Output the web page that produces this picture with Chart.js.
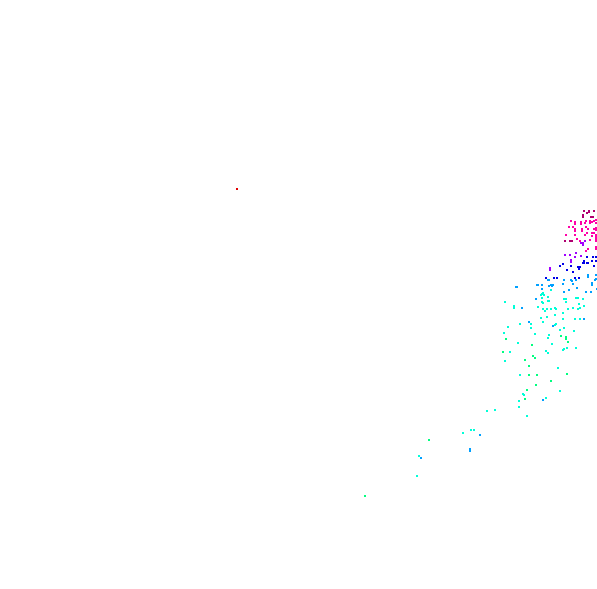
<!DOCTYPE html>
<html>
<head>
<meta charset="utf-8">
<title>Scatter</title>
<script src="https://cdn.jsdelivr.net/npm/chart.js@4"></script>
<style>
html, body { margin: 0; padding: 0; background: #fff; overflow: hidden; }
canvas { display: block; }
</style>
</head>
<body>
<canvas id="grafico" width="597" height="589"></canvas>
<script>
// valores, un grupo por color
const rojoX = [237];
const rojoY = [189];

const granateX = [584, 587, 589, 589, 594, 583, 583, 591, 593, 565, 570, 572];
const granateY = [211, 213, 212, 211, 211, 215, 217, 217, 217, 241, 241, 241];

const rosaX = [571, 575, 575, 581, 581, 586, 585, 590, 592, 594, 590, 596, 596, 569, 573, 575, 575, 582, 586, 588, 582, 594, 596, 596, 587, 585, 592, 594, 566, 575, 596, 596, 596, 592, 577, 580, 590, 596, 588, 586, 596, 596];
const rosaY = [221, 222, 224, 222, 224, 221, 223, 221, 222, 221, 223, 220, 223, 227, 227, 229, 231, 229, 227, 229, 231, 229, 228, 230, 233, 235, 233, 233, 235, 235, 235, 237, 239, 236, 239, 241, 240, 241, 249, 251, 247, 249];

const moradoX = [581, 583, 583, 585, 565, 570, 576, 581, 575, 571, 571, 550, 550];
const moradoY = [243, 243, 245, 241, 255, 255, 253, 256, 257, 260, 262, 268, 270];

const azulX = [587, 593, 596, 584, 592, 583, 584, 587, 563, 560, 571, 567, 573, 578, 580, 579, 588, 594, 596, 546, 554, 557, 575, 579];
const azulY = [257, 257, 257, 261, 261, 263, 263, 263, 264, 266, 266, 270, 272, 267, 267, 269, 263, 266, 261, 278, 278, 278, 278, 278];

const celesteX = [548, 549, 576, 571, 572, 588, 588, 596, 596, 595, 592, 592, 564, 563, 573, 537, 542, 551, 553, 542, 577, 569, 564, 586, 591, 597, 516, 517, 538, 549, 552, 522, 536, 553, 543, 529, 470, 470, 480, 421, 584];
const celesteY = [280, 280, 280, 280, 281, 275, 277, 275, 279, 280, 283, 285, 280, 284, 284, 285, 285, 285, 285, 289, 288, 290, 292, 292, 292, 289, 287, 287, 285, 286, 286, 308, 299, 326, 400, 322, 449, 451, 435, 458, 319];

const cianX = [542, 541, 542, 576, 578, 564, 566, 583, 548, 566, 542, 543, 548, 579, 584, 555, 547, 551, 556, 568, 578, 580, 573, 563, 575, 580, 541, 563, 551, 505, 514, 514, 541, 543, 544, 549, 538, 543, 545, 555, 547, 543, 531, 520, 556, 555, 508, 531, 504, 535, 548, 549, 564, 560, 574, 552, 567, 564, 563, 576, 546, 548, 518, 510, 505, 558, 520, 560, 523, 524, 546, 519, 519, 527, 495, 487, 471, 474, 463, 417, 419];
const cianY = [294, 295, 298, 298, 298, 299, 299, 299, 297, 302, 302, 303, 301, 304, 306, 308, 309, 309, 309, 309, 309, 308, 308, 313, 319, 319, 318, 319, 290, 302, 306, 308, 295, 293, 295, 301, 307, 309, 311, 315, 317, 322, 324, 324, 324, 325, 327, 328, 333, 334, 338, 335, 328, 330, 331, 344, 348, 349, 350, 348, 351, 353, 343, 352, 361, 368, 375, 391, 394, 395, 398, 401, 407, 416, 410, 411, 430, 430, 433, 476, 456];

const verdeX = [506, 561, 566, 566, 568, 532, 503, 533, 535, 525, 529, 567, 529, 537, 551, 536, 527, 525, 429, 365];
const verdeY = [339, 336, 337, 339, 342, 345, 352, 356, 358, 360, 366, 374, 375, 375, 381, 385, 390, 399, 440, 496];

// une las listas x,y en puntos
function puntos(xs, ys) {
    return xs.map((x, i) => ({ x: x, y: ys[i] }));
}

function serie(nombre, xs, ys, color) {
    return {
        label: nombre,
        data: puntos(xs, ys),
        backgroundColor: color,
        borderWidth: 0,
        pointStyle: 'rect',
        pointRadius: Math.SQRT2,
        pointHoverRadius: Math.SQRT2
    };
}

var ctx = document.getElementById('grafico').getContext('2d');

new Chart(ctx, {
    type: 'scatter',
    data: {
        datasets: [
            serie('rojo', rojoX, rojoY, '#e00000'),
            serie('granate', granateX, granateY, '#b00070'),
            serie('rosa', rosaX, rosaY, '#ff00a8'),
            serie('morado', moradoX, moradoY, '#a000ff'),
            serie('azul', azulX, azulY, '#0000e8'),
            serie('celeste', celesteX, celesteY, '#00a0ff'),
            serie('cian', cianX, cianY, '#00ffd8'),
            serie('verde', verdeX, verdeY, '#00ff80')
        ]
    },
    options: {
        responsive: false,
        animation: false,
        // sin esto el area del grafico se encoge y los puntos quedan borrosos
        layout: { padding: 0, autoPadding: false },
        plugins: {
            legend: { display: false },
            title: { display: false },
            tooltip: { enabled: false }
        },
        scales: {
            x: { type: 'linear', display: false, min: 0, max: 597 },
            y: { type: 'linear', display: false, reverse: true, min: 0, max: 589 }
        }
    }
});
</script>
</body>
</html>
